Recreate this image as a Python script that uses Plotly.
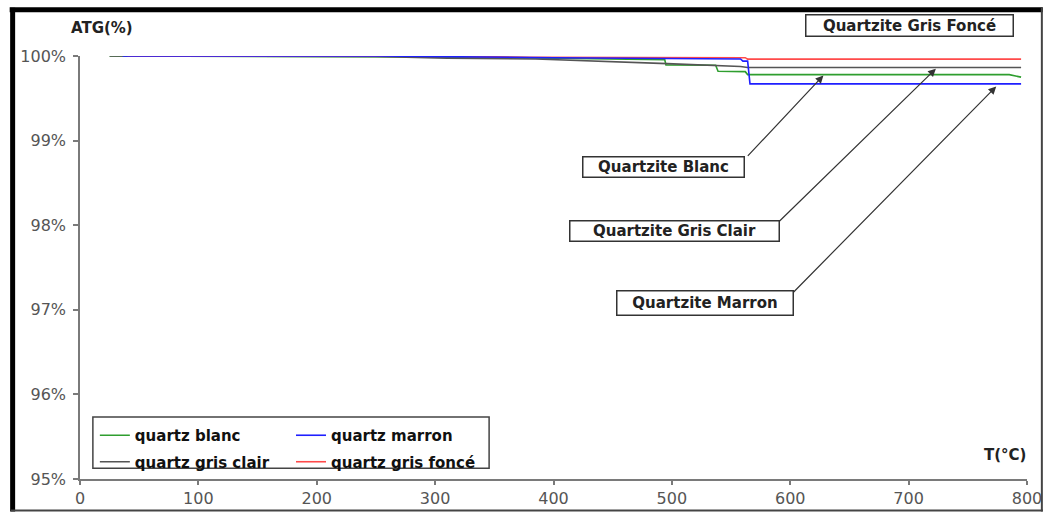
import plotly.graph_objects as go

# Thermogravimetric curves (ATG, % of initial mass) versus temperature
temp_blanc = [25, 300, 400, 494, 495, 537, 539, 562, 564, 785, 795]
atg_blanc = [100.0, 99.99, 99.975, 99.955, 99.895, 99.89, 99.82, 99.815, 99.78, 99.78, 99.75]

temp_gris_clair = [25, 250, 310, 385, 496, 538, 558, 564, 795]
atg_gris_clair = [100.0, 99.995, 99.975, 99.965, 99.91, 99.888, 99.876, 99.864, 99.864]

temp_gris_fonce = [40, 300, 380, 562, 564, 795]
atg_gris_fonce = [100.0, 100.0, 99.985, 99.98, 99.963, 99.963]

temp_marron = [36, 250, 400, 558, 560, 564, 566, 795]
atg_marron = [100.0, 100.0, 99.98, 99.965, 99.94, 99.94, 99.67, 99.67]

x_ticks = [0, 100, 200, 300, 400, 500, 600, 700, 800]
y_ticks = [95, 96, 97, 98, 99, 100]
y_tick_labels = [f"{v}%" for v in y_ticks]

FONT = "DejaVu Sans"
W, H = 1054, 520
L, R, T, B = 80, 18, 56, 34
PW, PH = W - L - R, H - T - B


def px(xp):
    return (xp - L) / PW


def py(yp):
    return (H - B - yp) / PH


fig = go.Figure()

# (name, x, y, colour, legend, rank within its legend)
series = [
    ("quartz blanc", temp_blanc, atg_blanc, "#2f9e2f", "legend", 1),
    ("quartz gris clair", temp_gris_clair, atg_gris_clair, "#555555", "legend", 2),
    ("quartz gris foncé", temp_gris_fonce, atg_gris_fonce, "#ff4a4a", "legend2", 2),
    ("quartz marron", temp_marron, atg_marron, "#1f1fff", "legend2", 1),
]
for name, xs, ys, color, leg, rank in series:
    fig.add_trace(go.Scatter(
        x=xs, y=ys, name=name, mode="lines", cliponaxis=False,
        line=dict(color=color, width=1.6), legend=leg, legendgroup=name,
        legendrank=rank,
    ))

legend_common = dict(
    orientation="v", xanchor="left", yanchor="top", bgcolor="rgba(0,0,0,0)",
    borderwidth=0, tracegroupgap=4, traceorder="grouped",
    font=dict(family=FONT, size=15, color="#111111", weight="bold"),
)

fig.update_layout(
    width=W, height=H,
    margin=dict(l=L, r=R, t=T, b=B),
    paper_bgcolor="white", plot_bgcolor="white",
    font=dict(family=FONT, size=15, color="#555555"),
    legend=dict(legend_common, x=px(95), y=py(425)),
    legend2=dict(legend_common, x=px(293), y=py(425)),
    xaxis=dict(
        range=[0, 800], tickvals=x_ticks, showgrid=False, zeroline=False,
        showline=True, linecolor="#7a7a7a", linewidth=1.5,
        ticks="outside", ticklen=4, tickcolor="#7a7a7a", tickwidth=1.5,
        tickfont=dict(family=FONT, size=16, color="#555555"),
    ),
    yaxis=dict(
        range=[95, 100], tickvals=y_ticks, ticktext=y_tick_labels, showgrid=False,
        zeroline=False, showline=True, linecolor="#7a7a7a", linewidth=1.5,
        ticks="outside", ticklen=5, tickcolor="#7a7a7a", tickwidth=1.5,
        ticklabelstandoff=4,
        tickfont=dict(family=FONT, size=16, color="#555555"),
    ),
)

shapes = [
    # outer frame
    dict(type="line", xref="paper", yref="paper", x0=px(9), x1=px(1052), y0=py(9), y1=py(9),
         line=dict(color="#000000", width=5)),
    dict(type="line", xref="paper", yref="paper", x0=px(12), x1=px(12), y0=py(7), y1=py(519),
         line=dict(color="#000000", width=5)),
    dict(type="line", xref="paper", yref="paper", x0=px(1051), x1=px(1051), y0=py(7), y1=py(519),
         line=dict(color="#444444", width=2)),
    dict(type="line", xref="paper", yref="paper", x0=px(10), x1=px(1052), y0=py(518), y1=py(518),
         line=dict(color="#444444", width=2)),
    # legend box
    dict(type="rect", xref="paper", yref="paper", x0=px(93), x1=px(493), y0=py(423), y1=py(475),
         line=dict(color="#444444", width=1.5)),
]
fig.update_layout(shapes=shapes)

annotations = [
    dict(text="<b>ATG(%)</b>", xref="paper", yref="paper", x=px(69), y=py(28),
         xanchor="left", yanchor="middle", showarrow=False,
         font=dict(family=FONT, size=15, color="#222222")),
    dict(text="<b>T(°C)</b>", xref="paper", yref="paper", x=px(1037), y=py(462),
         xanchor="right", yanchor="middle", showarrow=False,
         font=dict(family=FONT, size=15, color="#222222")),
]

# boxed curve labels: (text, box left, box top, box right, box bottom) in pixels
boxes = [
    ("Quartzite Gris Foncé", 813, 13, 1022, 36),
    ("Quartzite Blanc", 588, 158, 751, 180),
    ("Quartzite Gris Clair", 575, 223, 786, 245),
    ("Quartzite Marron", 622, 294, 800, 320),
]
for text, x0, y0, x1, y1 in boxes:
    annotations.append(dict(
        text=f"<b>{text}</b>", xref="paper", yref="paper",
        x=px((x0 + x1) / 2), y=py((y0 + y1) / 2), xanchor="center", yanchor="middle",
        showarrow=False, bgcolor="white", bordercolor="#333333", borderwidth=1.5,
        borderpad=0, width=x1 - x0 - 3, height=y1 - y0 - 3,
        font=dict(family=FONT, size=15, color="#222222"),
    ))

# arrows from each box to its curve: head in data coordinates, tail offset in pixels
arrows = [
    (755.0, 100.02, 930, 37, 983, 55),
    (628.0, 99.77, 751, 158, 828, 76),
    (723.0, 99.85, 786, 223, 944, 69),
    (774.0, 99.64, 800, 294, 1004, 87),
]
for xh, yh, tx, ty, hx, hy in arrows:
    annotations.append(dict(
        text="", x=xh, y=yh, xref="x", yref="y", showarrow=True,
        ax=tx - hx, ay=ty - hy, axref="pixel", ayref="pixel",
        arrowhead=2, arrowsize=1.3, arrowwidth=1.2, arrowcolor="#333333",
        standoff=0, startstandoff=0,
    ))

fig.update_layout(annotations=annotations)

fig.write_html("out.html")
